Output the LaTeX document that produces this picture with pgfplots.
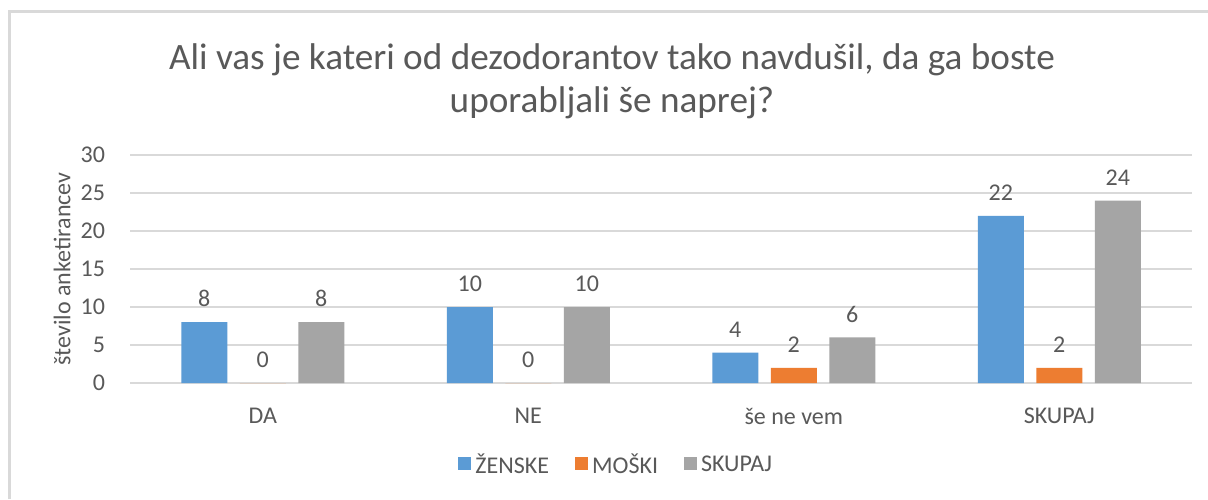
\documentclass[border=0pt]{standalone}
\usepackage{pgfplots}
\pgfplotsset{compat=1.18}
\usepackage{fontspec}
\setmainfont{Carlito}
\definecolor{cblue}{HTML}{5B9BD5}
\definecolor{corange}{HTML}{ED7D31}
\definecolor{cgray}{HTML}{A5A5A5}
\definecolor{ctext}{HTML}{595959}
\definecolor{cgrid}{HTML}{D9D9D9}
\begin{document}
\begin{tikzpicture}[x=1pt,y=1pt]
\path[use as bounding box] (0,0) rectangle (604,249.5);
\fill[white] (0,0) rectangle (604,249.5);
\draw[cgrid,line width=1.2pt] (4.8,0) -- (4.8,243.8) -- (604,243.8);
\node[text=ctext,align=center,font=\fontsize{18.6}{21.5}\selectfont] at (306,209)
  {Ali vas je kateri od dezodorantov tako navdušil, da ga boste\\uporabljali še naprej?};
\begin{axis}[
  at={(65pt,58pt)}, anchor=south west,
  scale only axis, width=531pt, height=114pt,
  ybar=6.25pt, bar width=23pt,
  xmin=-0.5, xmax=3.5, ymin=0, ymax=30,
  xtick=data, xticklabels={DA,NE,še ne vem,SKUPAJ},
  ytick={0,5,10,15,20,25,30},
  ymajorgrids, grid style={cgrid, line width=0.6pt},
  axis lines*=left,
  y axis line style={draw=none},
  x axis line style={cgrid, line width=0.6pt},
  major tick length=0pt,
  tick label style={text=ctext, font=\fontsize{12}{14}\selectfont},
  /pgf/number format/assume math mode=true,
  xticklabel style={yshift=-9pt},
  yticklabel style={xshift=-9pt},
  ylabel={število anketirancev},
  ylabel style={text=ctext, font=\fontsize{12}{14}\selectfont, at={(axis description cs:-0.064,0.5)}, anchor=center, rotate=0},
  nodes near coords,
  every node near coord/.append style={text=ctext, font=\fontsize{12}{14}\selectfont, yshift=4pt},
  legend columns=3,
  legend style={at={(0.4588,-0.36)}, anchor=center, draw=none, font=\fontsize{12}{14}\selectfont, text=ctext,
    /tikz/every even column/.append style={column sep=11pt}},
  legend image code/.code={\fill[#1] (0pt,-2.6pt) rectangle (6.5pt,3.9pt);},
]
\addplot[fill=cblue, draw=none] coordinates {(0,8) (1,10) (2,4) (3,22)};
\addplot[fill=corange, draw=none] coordinates {(0,0) (1,0) (2,2) (3,2)};
\addplot[fill=cgray, draw=none] coordinates {(0,8) (1,10) (2,6) (3,24)};
\legend{ŽENSKE,MOŠKI,SKUPAJ}
\end{axis}
\end{tikzpicture}
\end{document}
